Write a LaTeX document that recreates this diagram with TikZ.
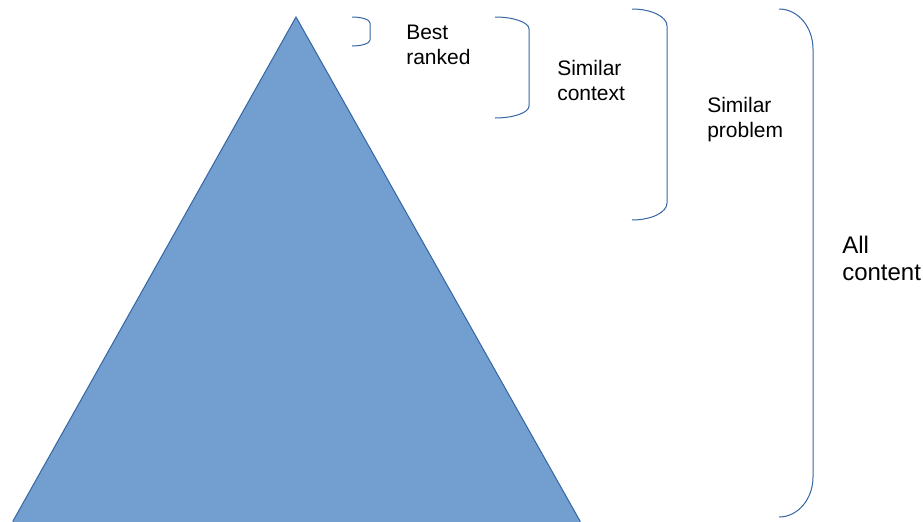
\documentclass[tikz,border=0pt]{standalone}
\usepackage{fontspec}
\setmainfont{Liberation Sans}
\usepackage{tikz}
\usetikzlibrary{positioning}

\definecolor{pyrfill}{HTML}{729FCF}
\definecolor{pyrline}{HTML}{3465A4}

\begin{document}
\begin{tikzpicture}[
    x=0.75pt, y=-0.75pt,
    pyramid/.style={fill=pyrfill, draw=pyrline, line width=0.75pt, line join=miter},
    bracket/.style={draw=pyrline, line width=0.75pt},
    label/.style={
        anchor=north west, inner sep=0pt, align=left,
        font=\fontsize{15.75}{18.75}\selectfont
    },
    biglabel/.style={
        label, font=\fontsize{18}{20.25}\selectfont
    },
]

% Page area
\useasboundingbox (0,0) rectangle (923,521);

% Pyramid (base runs off the bottom edge)
\begin{scope}
    \clip (0,0) rectangle (923,521);
    \draw[pyramid] (296,17) -- (580,521) -- (580,530) -- (13,530) -- (13,521) -- cycle;
\end{scope}

% Brackets, from the tip outwards
\draw[bracket] (352,17) arc[start angle=-90, end angle=0, x radius=18, y radius=6]
    -- (370,40) arc[start angle=0, end angle=90, x radius=18, y radius=6];
\draw[bracket] (495,17) arc[start angle=-90, end angle=0, x radius=34, y radius=12]
    -- (529,106) arc[start angle=0, end angle=90, x radius=34, y radius=12];
\draw[bracket] (632,9) arc[start angle=-90, end angle=0, x radius=35, y radius=17]
    -- (667,203) arc[start angle=0, end angle=90, x radius=35, y radius=17];
\draw[bracket] (779,9) arc[start angle=-90, end angle=0, x radius=34, y radius=40]
    -- (813,477) arc[start angle=0, end angle=90, x radius=34, y radius=40];

% Labels
\node[label] (best)    at (406,25)  {Best\\ranked};
\node[label] (context) at (557,60)  {Similar\\context};
\node[label] (problem) at (707,97)  {Similar\\problem};
\node[biglabel] (all)  at (842,236) {All\\content};

\end{tikzpicture}
\end{document}
